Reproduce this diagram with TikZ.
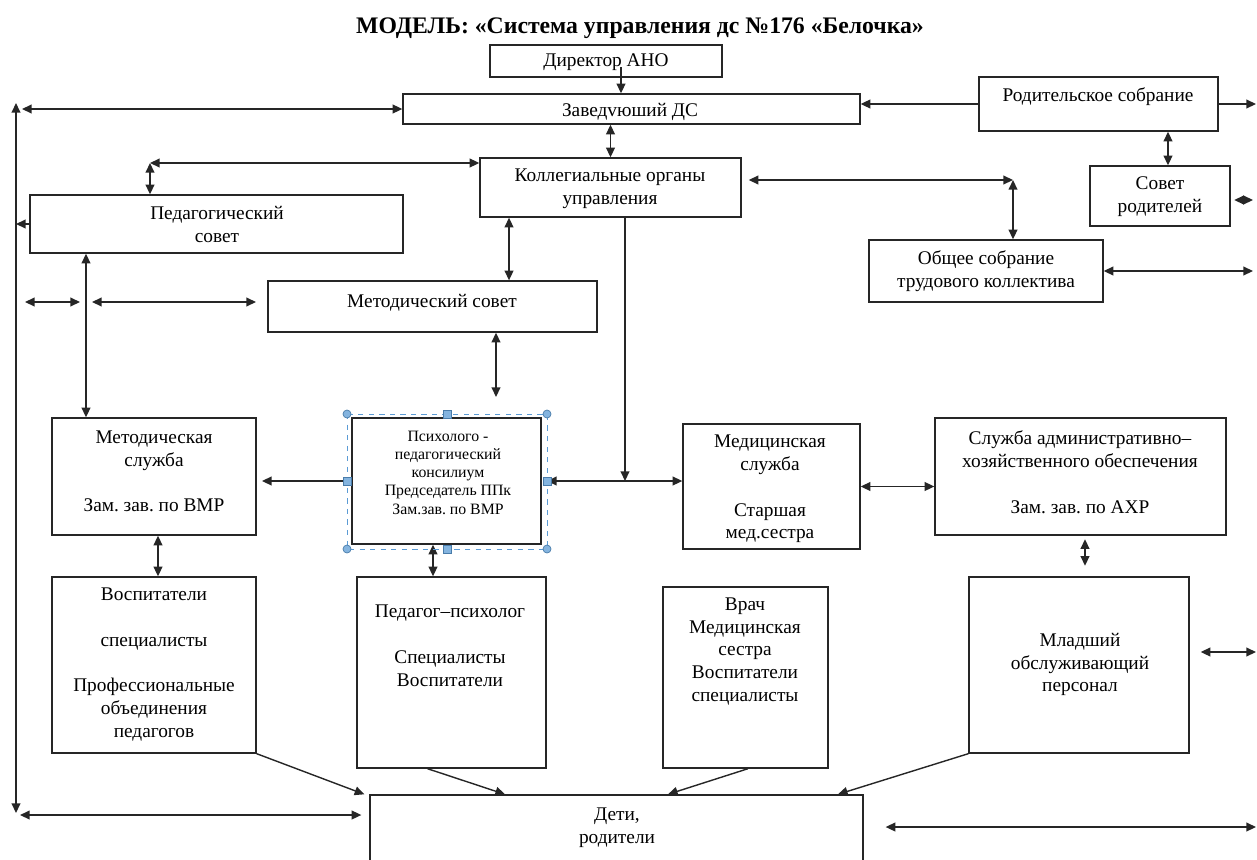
\documentclass[tikz,border=0pt]{standalone}
\usepackage{fontspec}
\setmainfont{Liberation Serif}
\usetikzlibrary{arrows.meta}
\definecolor{selblue}{RGB}{91,155,213}
\frenchspacing

\begin{document}
\begin{tikzpicture}[x=0.02cm, y=-0.02cm,
    box/.style={draw=black!85, line width=0.8pt, inner sep=0pt},
    txt/.style={align=center, inner sep=0pt, font=\fontsize{11}{13}\selectfont},
    small/.style={align=center, inner sep=0pt, font=\fontsize{9}{10.4}\selectfont},
    arr/.style={draw=black!85, line width=0.8pt, -{Triangle[length=5.5pt,width=5pt]}},
    dbl/.style={draw=black!85, line width=0.8pt, {Triangle[length=5.5pt,width=5pt]}-{Triangle[length=5.5pt,width=5pt]}},
    handle/.style={draw=selblue!80!black, fill=selblue!75!white, line width=0.4pt}]
    \useasboundingbox (0,0) rectangle (1257,859) ;

    \node[font=\bfseries\fontsize{13.5}{16}\selectfont] (title) at (640,28) {МОДЕЛЬ: «Система управления дс №176 «Белочка»} ;

    \node[box, minimum width=4.64cm, minimum height=0.64cm] (dir) at (606,61) {} ;
    \node[box, minimum width=9.14cm, minimum height=0.60cm] (zav) at (631.5,109) {} ;
    \node[box, minimum width=4.78cm, minimum height=1.08cm] (rod) at (1098.5,104) {} ;
    \node[box, minimum width=2.80cm, minimum height=1.20cm] (sov) at (1160,196) {} ;
    \node[box, minimum width=5.22cm, minimum height=1.18cm] (kol) at (610.5,187.5) {} ;
    \node[box, minimum width=7.46cm, minimum height=1.16cm] (ped) at (216.5,224) {} ;
    \node[box, minimum width=4.68cm, minimum height=1.24cm] (obsh) at (986,271) {} ;
    \node[box, minimum width=6.58cm, minimum height=1.02cm] (msov) at (432.5,306.5) {} ;
    \node[box, minimum width=4.08cm, minimum height=2.34cm] (msl) at (154,476.5) {} ;
    \node[box, minimum width=3.78cm, minimum height=2.52cm] (ppk) at (446.5,481) {} ;
    \node[box, minimum width=3.54cm, minimum height=2.50cm] (med) at (771.5,486.5) {} ;
    \node[box, minimum width=5.82cm, minimum height=2.34cm] (aho) at (1080.5,476.5) {} ;
    \node[box, minimum width=4.08cm, minimum height=3.52cm] (vos) at (154,665) {} ;
    \node[box, minimum width=3.78cm, minimum height=3.82cm] (psy) at (451.5,672.5) {} ;
    \node[box, minimum width=3.30cm, minimum height=3.62cm] (vr) at (745.5,677.5) {} ;
    \node[box, minimum width=4.40cm, minimum height=3.52cm] (ml) at (1079,665) {} ;
    \node[box, minimum width=9.86cm, minimum height=1.60cm] (det) at (616.5,835) {} ;

    \node[txt] (dir-t) at (606,62) {Директор АНО} ;
    \node[txt] (zav-t) at (630,112) {Заведvюший ДС} ;
    \node[txt] (rod-t) at (1098,97) {Родительское собрание} ;
    \node[txt] (sov-t) at (1160,197) {Совет\\родителей} ;
    \node[txt] (kol-t) at (610,189) {Коллегиальные органы\\управления} ;
    \node[txt] (ped-t) at (217,224.5) {Педагогический\\совет} ;
    \node[txt] (obsh-t) at (986,271) {Общее собрание\\трудового коллектива} ;
    \node[txt] (msov-t) at (432,303) {Методический совет} ;
    \node[txt] (msl-t) at (154,471.5) {Методическая\\служба\\[13pt]Зам. зав. по ВМР} ;
    \node[small] (ppk-t) at (448,472.5) {Психолого -\\педагогический\\консилиум\\Председатель ППк\\Зам.зав. по ВМР} ;
    \node[txt] (med-t) at (770,489) {Медицинская\\служба\\[13pt]Старшая\\мед.сестра} ;
    \node[txt] (aho-t) at (1080,472) {Служба административно–\\хозяйственного обеспечения\\[13pt]Зам. зав. по АХР} ;
    \node[txt] (vos-t) at (154,664.5) {Воспитатели\\[13pt]специалисты\\[13pt]Профессиональные\\объединения\\педагогов} ;
    \node[txt] (psy-t) at (450,646) {Педагог–психолог\\[13pt]Специалисты\\Воспитатели} ;
    \node[txt] (vr-t) at (745,651.5) {Врач\\Медицинская\\сестра\\Воспитатели\\специалисты} ;
    \node[txt] (ml-t) at (1080,664.5) {Младший\\обслуживающий\\персонал} ;
    \node[txt] (det-t) at (617,827.5) {Дети,\\родители} ;

    \coordinate (lt) at (16,103) ;
    \coordinate (lb) at (16,813) ;
    \coordinate (lz) at (22,109) ;
    \coordinate (pk) at (150,163) ;
    \coordinate (da) at (621,67) ;
    \coordinate (re) at (1256,104) ;
    \coordinate (sr) at (1253,200) ;
    \coordinate (ko) at (1013,180) ;
    \coordinate (or) at (1253,271) ;
    \coordinate (km) at (625,481) ;
    \coordinate (pv) at (86,302) ;
    \coordinate (h1) at (25,302) ;
    \coordinate (h2) at (80,302) ;
    \coordinate (h3) at (92,302) ;
    \coordinate (h4) at (256,302) ;
    \coordinate (mp) at (496,397) ;
    \coordinate (mr) at (1256,652) ;
    \coordinate (bl) at (20,815) ;
    \coordinate (br) at (1256,827) ;

    \draw[dbl] (lt) -- (lb) ;
    \draw[dbl] (lz) -- (zav.west) ;
    \draw[arr] (ped.west) -- (ped.west -| lt) ;
    \draw[arr] (da) -- (da |- zav.north) ;
    \draw[dbl] (pk) -- (kol.west |- pk) ;
    \draw[dbl] (pk) -- (ped.north -| pk) ;
    \draw[dbl] (kol.north) -- (kol.north |- zav.south) ;
    \draw[arr] (rod.west) -- (rod.west -| zav.east) ;
    \draw[arr] (rod.east) -- (re) ;
    \draw[dbl] ([xshift=0.16cm]sov.north) -- ([xshift=0.16cm]sov.north |- rod.south) ;
    \draw[dbl, shorten <=2pt] (sov.east |- sr) -- (sr) ;
    \draw[dbl, shorten <=4pt] (kol.east |- ko) -- (ko) ;
    \draw[dbl] (ko) -- (ko |- obsh.north) ;
    \draw[dbl] (obsh.east) -- (or) ;
    \draw[arr] (kol.south -| km) -- (km) ;
    \draw[dbl, shorten <=3pt] (ppk.east) -- (ppk.east -| med.west) ;
    \draw[dbl] ([xshift=-2.03cm]kol.south) -- ([xshift=-2.03cm]kol.south |- msov.north) ;
    \draw[dbl] (ped.south -| pv) -- (msl.north -| pv) ;
    \draw[dbl] (h1) -- (h2) ;
    \draw[dbl] (h3) -- (h4) ;
    \draw[dbl] (msov.south -| mp) -- (mp) ;
    \draw[arr, shorten <=3pt, shorten >=3pt] (ppk.west) -- (ppk.west -| msl.east) ;
    \draw[dbl] (med.east) -- (med.east -| aho.west) ;
    \draw[dbl] ([xshift=0.08cm]msl.south) -- ([xshift=0.08cm]vos.north) ;
    \draw[dbl] ([xshift=-0.27cm]ppk.south) -- ([xshift=-0.27cm]ppk.south |- psy.north) ;
    \draw[dbl, shorten <=2pt, shorten >=6pt] ([xshift=0.09cm]aho.south) -- ([xshift=0.09cm]aho.south |- ml.north) ;
    \draw[dbl, shorten <=0.22cm] (ml.east |- mr) -- (mr) ;
    \draw[arr] (vos.south east) -- ([xshift=-0.1cm]det.north west) ;
    \draw[arr] ([xshift=-0.48cm]psy.south) -- ([xshift=-2.23cm]det.north) ;
    \draw[arr] ([xshift=0.05cm]vr.south) -- ([xshift=1.03cm]det.north) ;
    \draw[arr] (ml.south west) -- ([xshift=4.43cm]det.north) ;
    \draw[dbl, shorten >=0.16cm] (bl) -- (bl -| det.west) ;
    \draw[dbl, shorten <=0.44cm] (det.east |- br) -- (br) ;

    \draw[selblue, dashed, line width=0.5pt] (347,414) rectangle (547,549) ;
    \foreach \p in {(347,414),(547,414),(347,549),(547,549)}
      \draw[handle] \p circle (4) ;
    \foreach \p in {(447,414),(547,481),(447,549),(347,481)}
      \draw[handle] \p ++(-4,-4) rectangle ++(8,8) ;
\end{tikzpicture}
\end{document}
